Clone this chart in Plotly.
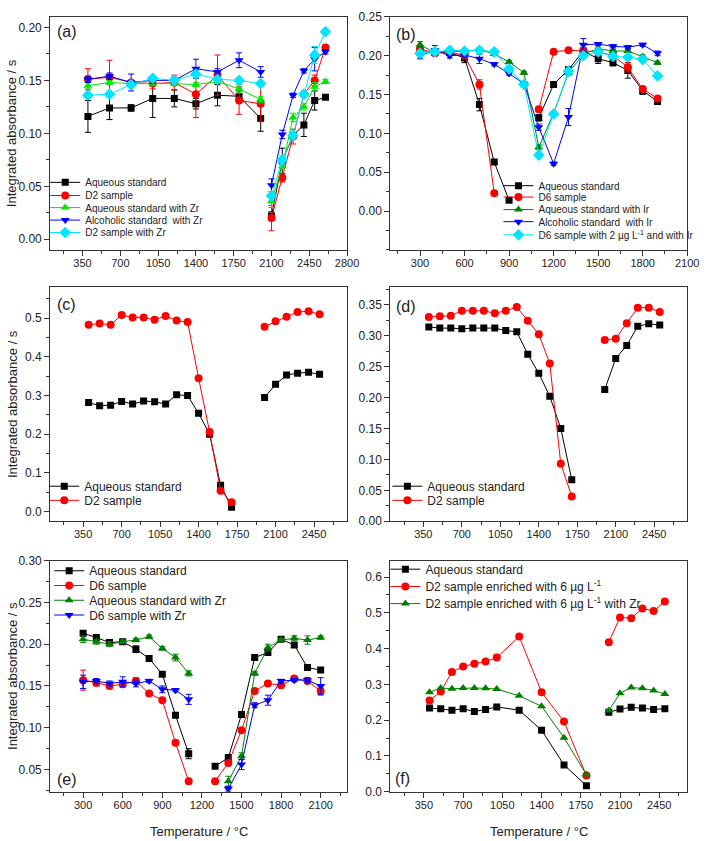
import plotly.graph_objects as go

W, H = 713, 841

# ---------------- data ----------------
# (a)
a_x = [400, 600, 800, 1000, 1200, 1400, 1600, 1800, 2000, None, 2100, 2200, 2300, 2400, 2500, 2600]
a_aq = [0.116, 0.124, 0.124, 0.133, 0.133, 0.128, 0.136, 0.135, 0.114, None, 0.022, 0.074, 0.098, 0.108, 0.131, 0.134]
a_aq_err = [0.015, 0.011, 0.003, 0.018, 0.008, 0.005, 0.010, 0.005, 0.012, 0, 0.004, 0.012, 0.003, 0.011, 0.009, 0.002]
a_d2 = [0.151, 0.153, 0.148, 0.147, 0.148, 0.137, 0.155, 0.131, 0.128, None, 0.020, 0.058, 0.097, 0.137, 0.150, 0.181]
a_d2_err = [0.010, 0.016, 0.002, 0.005, 0.007, 0.022, 0.019, 0.013, 0.017, 0, 0.012, 0.004, 0.007, 0.002, 0.005, 0.002]
a_aqzr = [0.145, 0.148, 0.147, 0.147, 0.147, 0.146, 0.149, 0.142, 0.132, None, 0.036, 0.069, 0.115, 0.125, 0.144, 0.149]
a_aqzr_err = [0.003, 0.002, 0.002, 0.002, 0.002, 0.002, 0.002, 0.004, 0.003, 0, 0.006, 0.003, 0.004, 0.003, 0.004, 0.002]
a_alzr = [0.151, 0.154, 0.148, 0.150, 0.150, 0.161, 0.158, 0.169, 0.158, None, 0.051, 0.099, 0.136, 0.159, 0.170, 0.177]
a_alzr_err = [0.003, 0.003, 0.008, 0.003, 0.003, 0.009, 0.003, 0.007, 0.005, 0, 0.006, 0.004, 0.002, 0.002, 0.011, 0.002]
a_d2zr = [0.136, 0.137, 0.146, 0.152, 0.150, 0.156, 0.151, 0.150, 0.147, None, 0.041, 0.075, 0.098, 0.137, 0.174, 0.196]
a_d2zr_err = [0.002, 0.002, 0.003, 0.002, 0.002, 0.003, 0.002, 0.002, 0.002, 0, 0.004, 0.004, 0.003, 0.003, 0.008, 0.002]

# (b)
b_x = [300, 400, 500, 600, 700, 800, 900, 1000, 1100, 1200, 1300, 1400, 1500, 1600, 1700, 1800, 1900]
b_aq = [0.205, 0.204, 0.204, 0.197, 0.137, 0.063, 0.014, None, 0.120, 0.163, 0.182, 0.206, 0.196, 0.191, 0.181, 0.155, 0.141]
b_aq_err = [0.003, 0.002, 0.002, 0.006, 0.008, 0.003, 0.002, 0, 0.004, 0.002, 0.003, 0.003, 0.006, 0.004, 0.010, 0.005, 0.003]
b_d6 = [0.209, 0.203, 0.205, 0.200, 0.163, 0.023, None, None, 0.131, 0.205, 0.207, 0.206, 0.205, 0.200, 0.185, 0.157, 0.145]
b_d6_err = [0.003, 0.003, 0.002, 0.002, 0.006, 0.002, 0, 0, 0.003, 0.002, 0.002, 0.002, 0.002, 0.002, 0.006, 0.003, 0.002]
b_aqir = [0.214, 0.204, 0.206, 0.205, 0.208, 0.202, 0.192, 0.178, 0.082, 0.126, 0.178, 0.202, 0.209, 0.206, 0.206, 0.199, 0.191]
b_aqir_err = [0.004, 0.002, 0.002, 0.002, 0.002, 0.002, 0.002, 0.002, 0.003, 0.002, 0.003, 0.002, 0.002, 0.002, 0.002, 0.002, 0.002]
b_alir = [0.200, 0.207, 0.200, 0.201, 0.196, 0.189, 0.177, 0.164, 0.108, 0.061, 0.121, 0.214, 0.215, 0.212, 0.211, 0.214, 0.203]
b_alir_err = [0.004, 0.006, 0.003, 0.002, 0.006, 0.002, 0.002, 0.002, 0.004, 0.002, 0.011, 0.008, 0.002, 0.002, 0.002, 0.002, 0.003]
b_d6ir = [0.203, 0.205, 0.207, 0.206, 0.207, 0.205, 0.183, 0.163, 0.072, 0.125, 0.180, 0.200, 0.205, 0.199, 0.198, 0.195, 0.174]
b_d6ir_err = [0.004, 0.002, 0.003, 0.002, 0.002, 0.002, 0.002, 0.002, 0.002, 0.002, 0.002, 0.002, 0.002, 0.002, 0.002, 0.002, 0.003]

# (c)
c_x = [400, 500, 600, 700, 800, 900, 1000, 1100, 1200, 1300, 1400, 1500, 1600, 1700, None, 2000, 2100, 2200, 2300, 2400, 2500]
c_aq = [0.282, 0.274, 0.275, 0.285, 0.278, 0.286, 0.284, 0.278, 0.302, 0.300, 0.254, 0.200, 0.068, 0.011, None, 0.295, 0.329, 0.353, 0.358, 0.360, 0.355]
c_d2 = [0.483, 0.486, 0.483, 0.508, 0.502, 0.502, 0.496, 0.506, 0.494, 0.490, 0.345, 0.206, 0.054, 0.024, None, 0.478, 0.492, 0.504, 0.516, 0.518, 0.510]

# (d)
d_x = [400, 500, 600, 700, 800, 900, 1000, 1100, 1200, 1300, 1400, 1500, 1600, 1700, None, 2000, 2100, 2200, 2300, 2400, 2500]
d_aq = [0.314, 0.312, 0.312, 0.311, 0.312, 0.312, 0.312, 0.308, 0.306, 0.270, 0.239, 0.202, 0.150, 0.067, None, 0.213, 0.263, 0.284, 0.315, 0.319, 0.317]
d_d2 = [0.330, 0.331, 0.332, 0.340, 0.340, 0.340, 0.336, 0.340, 0.346, 0.324, 0.302, 0.255, 0.093, 0.040, None, 0.293, 0.295, 0.320, 0.345, 0.345, 0.338]

# (e)
e_x = [300, 400, 500, 600, 700, 800, 900, 1000, 1100, 1200, 1300, 1400, 1500, 1600, 1700, 1800, 1900, 2000, 2100]
e_aq = [0.213, 0.208, 0.202, 0.203, 0.194, 0.183, 0.164, 0.115, 0.069, None, 0.054, 0.064, 0.116, 0.184, 0.190, 0.206, 0.199, 0.172, 0.169]
e_aq_err = [0.003, 0.003, 0.002, 0.002, 0.004, 0.003, 0.002, 0.002, 0.006, 0, 0.002, 0.004, 0.003, 0.002, 0.002, 0.002, 0.002, 0.003, 0.002]
e_d6 = [0.157, 0.154, 0.150, 0.152, 0.156, 0.141, 0.133, 0.082, 0.036, None, 0.036, 0.058, 0.097, 0.144, 0.153, 0.151, 0.159, 0.156, 0.144]
e_d6_err = [0.012, 0.004, 0.003, 0.003, 0.004, 0.002, 0.002, 0.002, 0.002, 0, 0.002, 0.002, 0.002, 0.002, 0.002, 0.002, 0.002, 0.002, 0.005]
e_aqzr = [0.206, 0.203, 0.200, 0.203, 0.205, 0.209, 0.195, 0.184, 0.165, None, None, 0.036, 0.066, 0.165, 0.196, 0.205, 0.207, 0.205, 0.208]
e_aqzr_err = [0.004, 0.003, 0.003, 0.002, 0.002, 0.002, 0.002, 0.004, 0.003, 0, 0, 0.006, 0.004, 0.002, 0.004, 0.002, 0.003, 0.005, 0.002]
e_d6zr = [0.155, 0.156, 0.153, 0.155, 0.153, 0.156, 0.146, 0.145, 0.134, None, None, 0.027, 0.056, 0.127, 0.133, 0.156, 0.157, 0.157, 0.150]
e_d6zr_err = [0.008, 0.003, 0.003, 0.006, 0.004, 0.002, 0.004, 0.002, 0.006, 0, 0, 0.003, 0.006, 0.003, 0.006, 0.002, 0.002, 0.003, 0.010]

# (f)
f_x = [400, 500, 600, 700, 800, 900, 1000, 1200, 1400, 1600, 1800, None, 2000, 2100, 2200, 2300, 2400, 2500]
f_aq = [0.234, 0.232, 0.228, 0.232, 0.224, 0.230, 0.237, 0.228, 0.172, 0.075, 0.017, None, 0.222, 0.231, 0.236, 0.234, 0.230, 0.232]
f_d2 = [0.255, 0.280, 0.335, 0.350, 0.358, 0.364, 0.375, 0.434, 0.278, 0.196, 0.045, None, 0.418, 0.487, 0.485, 0.512, 0.505, 0.532]
f_d2zr = [0.278, 0.290, 0.288, 0.290, 0.290, 0.289, 0.287, 0.268, 0.239, 0.151, 0.048, None, 0.227, 0.275, 0.291, 0.289, 0.283, 0.273]

# ---------------- styling ----------------
BLACK = '#000000'
RED = '#ff0000'
LIME = '#00e600'
DGREEN = '#008000'
BLUE = '#0000ff'
CYAN = '#00e5ff'
FONT = 'Liberation Sans, Arial, sans-serif'
AXC = '#333333'
TXT = '#222222'

SYM_SIZE = {'square': 7, 'circle': 8, 'triangle-up': 8, 'triangle-down': 8, 'diamond': 9}

panels = [
    dict(x=a_x, series=[
        ('Aqueous standard', a_aq, a_aq_err, BLACK, 'square', 178.3),
        ('D2 sample', a_d2, a_d2_err, RED, 'circle', 191.7),
        ('Aqueous standard with Zr', a_aqzr, a_aqzr_err, LIME, 'triangle-up', 204.0),
        ('Alcoholic standard  with Zr', a_alzr, a_alzr_err, BLUE, 'triangle-down', 216.7),
        ('D2 sample with Zr', a_d2zr, a_d2zr_err, CYAN, 'diamond', 229.3)],
        frame=(51, 353, 10, 247), leg_x=46, leg_fs=10,
        xr=[50, 2800], xt0=350, xdt=350, xminor=175,
        yr=[-0.01, 0.21], yt=[0, 0.05, 0.10, 0.15, 0.20], ytf='.2f', yminor=0.025,
        label='(a)', lab=(56, 25)),
    dict(x=b_x, series=[
        ('Aqueous standard', b_aq, b_aq_err, BLACK, 'square', 181.7),
        ('D6 sample', b_d6, b_d6_err, RED, 'circle', 193.3),
        ('Aqueous standard with Ir', b_aqir, b_aqir_err, DGREEN, 'triangle-up', 206.0),
        ('Alcoholic standard  with Ir', b_alir, b_alir_err, BLUE, 'triangle-down', 218.3),
        ('D6 sample with 2 µg L<sup>-1</sup> and with Ir', b_d6ir, b_d6ir_err, CYAN, 'diamond', 231.7)],
        frame=(397, 699, 10, 247), leg_x=507, leg_fs=10,
        xr=[100, 2100], xt0=300, xdt=300, xminor=150,
        yr=[-0.05, 0.25], yt=[0, 0.05, 0.10, 0.15, 0.20, 0.25], ytf='.2f', yminor=0.025,
        label='(b)', lab=(401, 28)),
    dict(x=c_x, series=[
        ('Aqueous standard', c_aq, None, BLACK, 'square', 487.3),
        ('D2 sample', c_d2, None, RED, 'circle', 501.7)],
        frame=(51, 353, 285, 523), leg_x=45, leg_fs=12,
        xr=[50, 2750], xt0=350, xdt=350, xminor=175,
        yr=[-0.025, 0.58], yt=[0, 0.1, 0.2, 0.3, 0.4, 0.5], ytf='.1f', yminor=0.05,
        label='(c)', lab=(56, 303)),
    dict(x=d_x, series=[
        ('Aqueous standard', d_aq, None, BLACK, 'square', 487.3),
        ('D2 sample', d_d2, None, RED, 'circle', 501.7)],
        frame=(397, 699, 285, 523), leg_x=394, leg_fs=12,
        xr=[50, 2750], xt0=350, xdt=350, xminor=175,
        yr=[0, 0.378], yt=[0, 0.05, 0.10, 0.15, 0.20, 0.25, 0.30, 0.35], ytf='.2f', yminor=0.025,
        label='(d)', lab=(401, 305)),
    dict(x=e_x, series=[
        ('Aqueous standard', e_aq, e_aq_err, BLACK, 'square', 573.3),
        ('D6 sample', e_d6, e_d6_err, RED, 'circle', 588.3),
        ('Aqueous standard with Zr', e_aqzr, e_aqzr_err, DGREEN, 'triangle-up', 603.3),
        ('D6 sample with Zr', e_d6zr, e_d6zr_err, BLUE, 'triangle-down', 618.3)],
        frame=(51, 353, 563, 798), leg_x=50, leg_fs=12,
        xr=[50, 2300], xt0=300, xdt=300, xminor=150,
        yr=[0.0235, 0.30], yt=[0.05, 0.10, 0.15, 0.20, 0.25, 0.30], ytf='.2f', yminor=0.025,
        label='(e)', lab=(56, 786)),
    dict(x=f_x, series=[
        ('Aqueous standard', f_aq, None, BLACK, 'square', 571.7),
        ('D2 sample enriched with 6 µg L<sup>-1</sup>', f_d2, None, RED, 'circle', 589.3),
        ('D2 sample enriched with 6 µg L<sup>-1</sup> with Zr', f_d2zr, None, DGREEN, 'triangle-up', 606.7)],
        frame=(397, 699, 563, 798), leg_x=392, leg_fs=12,
        xr=[50, 2700], xt0=350, xdt=350, xminor=175,
        yr=[0, 0.646], yt=[0, 0.1, 0.2, 0.3, 0.4, 0.5, 0.6], ytf='.1f', yminor=0.05,
        label='(f)', lab=(400, 785)),
]

fig = go.Figure()
layout = dict(
    width=W, height=H, margin=dict(l=0, r=0, t=0, b=0),
    paper_bgcolor='white', plot_bgcolor='white',
    font=dict(family=FONT, color=TXT),
    showlegend=True,
)
annotations = []
leg_count = 0

for i, p in enumerate(panels, start=1):
    sx = '' if i == 1 else str(i)
    xa, ya = 'x' + sx, 'y' + sx
    l, r, t, b = p['frame']
    ticks_common = dict(showline=True, linecolor=AXC, linewidth=1, mirror=True,
                        ticks='outside', ticklen=5, tickwidth=1, tickcolor=AXC,
                        showgrid=False, zeroline=False)
    layout['xaxis' + sx] = dict(
        domain=[l / W, r / W], anchor=ya, range=p['xr'],
        tickmode='linear', tick0=p['xt0'], dtick=p['xdt'],
        tickfont=dict(size=11, color=TXT, family=FONT),
        ticklabelstandoff=-2,
        minor=dict(dtick=p['xminor'], tick0=0, ticks='outside', ticklen=3, tickcolor=AXC),
        **ticks_common)
    layout['yaxis' + sx] = dict(
        domain=[1 - b / H, 1 - t / H], anchor=xa, range=p['yr'],
        tickmode='array', tickvals=p['yt'], tickformat=p['ytf'],
        tickfont=dict(size=12, color=TXT, family=FONT),
        minor=dict(dtick=p['yminor'], tick0=0, ticks='outside', ticklen=3, tickcolor=AXC),
        **ticks_common)
    for (name, y, err, color, sym, ly) in p['series']:
        leg_count += 1
        lid = 'legend' if leg_count == 1 else 'legend' + str(leg_count)
        tr = dict(x=p['x'], y=y, name=name, mode='lines+markers', xaxis=xa, yaxis=ya,
                  line=dict(color=color, width=1),
                  marker=dict(color=color, symbol=sym, size=SYM_SIZE[sym], line=dict(width=0)),
                  legend=lid, connectgaps=False, hoverinfo='skip')
        if err is not None:
            tr['error_y'] = dict(type='data', array=err, visible=True, color=color,
                                 thickness=1, width=3)
        fig.add_trace(go.Scatter(**tr))
        layout[lid] = dict(x=p['leg_x'] / W, y=1 - ly / H, xanchor='left', yanchor='middle',
                           bgcolor='rgba(0,0,0,0)', borderwidth=0, itemwidth=30,
                           font=dict(size=p['leg_fs'], color=TXT, family=FONT),
                           itemclick=False, itemdoubleclick=False)
    annotations.append(dict(text=p['label'], xref='paper', yref='paper',
                            x=p['lab'][0] / W, y=1 - p['lab'][1] / H,
                            xanchor='left', yanchor='middle', showarrow=False,
                            font=dict(size=16, color=TXT, family=FONT)))

for (t, b) in [(10, 247), (285, 523), (563, 798)]:
    annotations.append(dict(text='Integrated absorbance / s', xref='paper', yref='paper',
                            x=12 / W, y=1 - ((t + b) / 2) / H, textangle=-90,
                            xanchor='center', yanchor='middle', showarrow=False,
                            font=dict(size=13, color=TXT, family=FONT)))
for (l, r) in [(51, 353), (397, 699)]:
    annotations.append(dict(text='Temperature / °C', xref='paper', yref='paper',
                            x=((l + r) / 2) / W, y=1 - 829 / H,
                            xanchor='center', yanchor='top', showarrow=False,
                            font=dict(size=13, color=TXT, family=FONT)))

layout['annotations'] = annotations
fig.update_layout(**layout)
fig.write_html('out.html')
